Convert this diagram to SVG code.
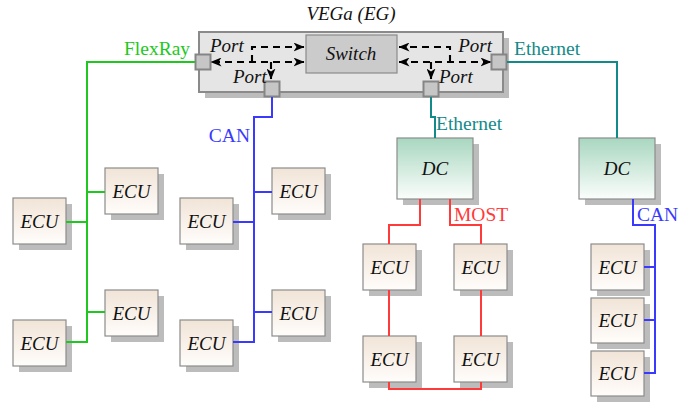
<svg xmlns="http://www.w3.org/2000/svg" width="694" height="402" viewBox="0 0 694 402">
<defs>
<linearGradient id="gEcu" x1="0" y1="0" x2="0" y2="1">
<stop offset="0" stop-color="#f1e4d7"/>
<stop offset="1" stop-color="#fffdfb"/>
</linearGradient>
<linearGradient id="gDc" x1="0" y1="0" x2="0" y2="1">
<stop offset="0" stop-color="#a9d7c0"/>
<stop offset="1" stop-color="#fbfefc"/>
</linearGradient>
<marker id="arr" viewBox="0 0 11 9" refX="10.5" refY="4.5" markerWidth="11" markerHeight="9" markerUnits="userSpaceOnUse" orient="auto-start-reverse">
<path d="M0,0 L11,4.5 L0,9 L3,4.5 Z" fill="#000"/>
</marker>
<style>
.sh{fill:#bcbcbc}
.ecu{fill:url(#gEcu);stroke:#8c8c8c;stroke-width:1.2}
.dc{fill:url(#gDc);stroke:#8c8c8c;stroke-width:1.2}
.port{fill:#c6c6c6;stroke:#858585;stroke-width:2}
.t{font-family:"Liberation Serif",serif;font-style:italic;font-size:19px;fill:#111}
.lbl{font-family:"Liberation Serif",serif;font-size:19.5px}
.ln{fill:none;stroke-width:2;stroke-linejoin:miter}
.fr{stroke:#1ec81e}.can{stroke:#3a3aff}.eth{stroke:#138a8a}.most{stroke:#ff3a3a}
.da{fill:none;stroke:#000;stroke-width:2.1;stroke-dasharray:7,5}
</style>
</defs>

<g id="gateway">
<rect class="sh" x="205" y="38" width="304" height="60"/>
<rect x="199" y="32" width="304" height="60" fill="#e5e5e5" stroke="#8a8a8a" stroke-width="2"/>
<text class="t" x="351" y="20" text-anchor="middle">VEGa (EG)</text>
</g>
<g id="switch">
<rect x="306" y="35" width="91" height="38" fill="#cbcbcb" stroke="#8a8a8a" stroke-width="1.2"/>
<text class="t" x="351" y="60" text-anchor="middle">Switch</text>
</g>
<g id="port-left">
<rect class="port" x="195.5" y="54.5" width="15" height="15"/>
<text class="t" x="210" y="52">Port</text>
</g>
<g id="port-right">
<rect class="port" x="491.5" y="54.5" width="15" height="15"/>
<text class="t" x="492" y="52" text-anchor="end">Port</text>
</g>
<g id="port-bl">
<rect class="port" x="264.5" y="81.5" width="15" height="15"/>
<text class="t" x="233" y="83">Port</text>
</g>
<g id="port-br">
<rect class="port" x="423.5" y="81.5" width="15" height="15"/>
<text class="t" x="439" y="83">Port</text>
</g>

<g id="ecu-fr1"><rect class="sh" x="19" y="204" width="53" height="46"/><rect class="ecu" x="13" y="198" width="53" height="46"/><text class="t" x="39.5" y="228" text-anchor="middle">ECU</text></g>
<g id="ecu-fr2"><rect class="sh" x="111" y="174" width="53" height="46"/><rect class="ecu" x="105" y="168" width="53" height="46"/><text class="t" x="131.5" y="198" text-anchor="middle">ECU</text></g>
<g id="ecu-fr3"><rect class="sh" x="19" y="326" width="53" height="46"/><rect class="ecu" x="13" y="320" width="53" height="46"/><text class="t" x="39.5" y="350" text-anchor="middle">ECU</text></g>
<g id="ecu-fr4"><rect class="sh" x="111" y="296" width="53" height="46"/><rect class="ecu" x="105" y="290" width="53" height="46"/><text class="t" x="131.5" y="320" text-anchor="middle">ECU</text></g>

<g id="ecu-can1"><rect class="sh" x="186" y="204" width="53" height="46"/><rect class="ecu" x="180" y="198" width="53" height="46"/><text class="t" x="206.5" y="228" text-anchor="middle">ECU</text></g>
<g id="ecu-can2"><rect class="sh" x="278" y="174" width="53" height="46"/><rect class="ecu" x="272" y="168" width="53" height="46"/><text class="t" x="298.5" y="198" text-anchor="middle">ECU</text></g>
<g id="ecu-can3"><rect class="sh" x="186" y="326" width="53" height="46"/><rect class="ecu" x="180" y="320" width="53" height="46"/><text class="t" x="206.5" y="350" text-anchor="middle">ECU</text></g>
<g id="ecu-can4"><rect class="sh" x="278" y="296" width="53" height="46"/><rect class="ecu" x="272" y="290" width="53" height="46"/><text class="t" x="298.5" y="320" text-anchor="middle">ECU</text></g>

<g id="dc1"><rect class="sh" x="403" y="144" width="76" height="61"/><rect class="dc" x="397" y="138" width="76" height="61"/><text class="t" x="435" y="175" text-anchor="middle">DC</text></g>
<g id="dc2"><rect class="sh" x="585" y="144" width="76" height="61"/><rect class="dc" x="579" y="138" width="76" height="61"/><text class="t" x="617" y="175" text-anchor="middle">DC</text></g>

<g id="ecu-most1"><rect class="sh" x="369" y="250" width="53" height="46"/><rect class="ecu" x="363" y="244" width="53" height="46"/><text class="t" x="389.5" y="274" text-anchor="middle">ECU</text></g>
<g id="ecu-most2"><rect class="sh" x="460" y="250" width="53" height="46"/><rect class="ecu" x="454" y="244" width="53" height="46"/><text class="t" x="480.5" y="274" text-anchor="middle">ECU</text></g>
<g id="ecu-most3"><rect class="sh" x="369" y="342" width="53" height="46"/><rect class="ecu" x="363" y="336" width="53" height="46"/><text class="t" x="389.5" y="366" text-anchor="middle">ECU</text></g>
<g id="ecu-most4"><rect class="sh" x="460" y="342" width="53" height="46"/><rect class="ecu" x="454" y="336" width="53" height="46"/><text class="t" x="480.5" y="366" text-anchor="middle">ECU</text></g>

<g id="ecu-can5"><rect class="sh" x="597" y="250" width="53" height="46"/><rect class="ecu" x="591" y="244" width="53" height="46"/><text class="t" x="617.5" y="274" text-anchor="middle">ECU</text></g>
<g id="ecu-can6"><rect class="sh" x="597" y="304" width="53" height="45"/><rect class="ecu" x="591" y="298" width="53" height="45"/><text class="t" x="617.5" y="327" text-anchor="middle">ECU</text></g>
<g id="ecu-can7"><rect class="sh" x="597" y="357" width="53" height="45"/><rect class="ecu" x="591" y="351" width="53" height="45"/><text class="t" x="617.5" y="380" text-anchor="middle">ECU</text></g>

<g id="connectors">
<path class="da" d="M252,62 V47 H304" marker-end="url(#arr)"/>
<path class="da" d="M304,62 H211" marker-start="url(#arr)" marker-end="url(#arr)"/>
<path class="da" d="M271,62 V79" marker-end="url(#arr)"/>
<path class="da" d="M450,62 V47 H399" marker-end="url(#arr)"/>
<path class="da" d="M399,62 H491" marker-start="url(#arr)" marker-end="url(#arr)"/>
<path class="da" d="M431,62 V79" marker-end="url(#arr)"/>

<path class="ln fr" d="M195,62 H87 V342 H66 M87,222 H66 M87,192 H105 M87,312 H105"/>
<text class="lbl" x="124" y="55" fill="#1ec81e">FlexRay</text>

<path class="ln can" d="M272,97 V117 H254 V342 H233 M254,222 H233 M254,192 H272 M254,312 H272"/>
<text class="lbl" x="250" y="142" fill="#3a3aff" text-anchor="end">CAN</text>

<path class="ln eth" d="M431,97 V117 H435 V138"/>
<text class="lbl" x="436" y="130" fill="#138a8a">Ethernet</text>
<path class="ln eth" d="M507,62 H617 V138"/>
<text class="lbl" x="514" y="55" fill="#138a8a">Ethernet</text>

<path class="ln most" d="M420,199 V225 H389 V244 M450,199 V225 H481 V244 M389,290 V336 M481,290 V336 M389,382 V389 H481 V382"/>
<text class="lbl" x="454" y="221" fill="#ff3a3a">MOST</text>

<path class="ln can" d="M633,199 V225 H655 V373 H644 M655,267 H644 M655,320 H644"/>
<text class="lbl" x="637" y="221" fill="#3a3aff">CAN</text>
</g>
</svg>
